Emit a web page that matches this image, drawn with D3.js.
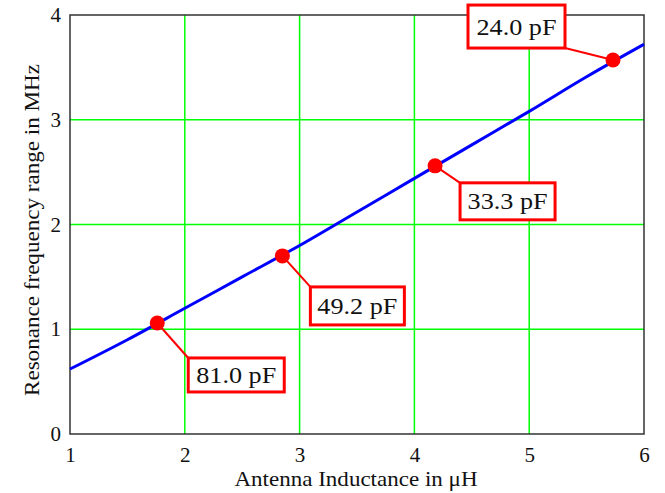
<!DOCTYPE html>
<html>
<head>
<meta charset="utf-8">
<script src="https://cdn.jsdelivr.net/npm/d3@7"></script>
<style>
  body { margin: 0; background: #fff; }
  svg { display: block; }
  text { font-family: "Liberation Serif", "Times New Roman", serif; fill: #111; }
</style>
</head>
<body>
<div id="chart"></div>
<script>
// curve: antenna inductance (uH) vs resonance frequency (MHz)
var inductance = [1, 1.5, 2, 2.5, 3, 3.5, 4, 4.5, 5, 5.5, 6];
var frequency = [0.62, 0.90, 1.20, 1.50, 1.80, 2.12, 2.44, 2.76, 3.08, 3.41, 3.72];

// marked points with capacitor values
var markL = [1.76, 2.85, 4.18, 5.73];
var markF = [1.06, 1.70, 2.56, 3.57];
var capLabels = ["81.0 pF", "49.2 pF", "33.3 pF", "24.0 pF"];

var xTicks = [1, 2, 3, 4, 5, 6];
var yTicks = [0, 1, 2, 3, 4];

var margin = {top: 15, right: 21, bottom: 59, left: 70},
    width = 665 - margin.left - margin.right,
    height = 493 - margin.top - margin.bottom;

var svg = d3.select("#chart").append("svg")
    .attr("width", 665)
    .attr("height", 493);

var g = svg.append("g")
    .attr("transform", "translate(" + margin.left + "," + margin.top + ")");

var x = d3.scaleLinear().domain([1, 6]).range([0, width]);
var y = d3.scaleLinear().domain([0, 4]).range([height, 0]);

// green grid
g.append("g").selectAll("line")
    .data(xTicks.slice(1, -1))
    .enter().append("line")
    .attr("x1", function(d) { return x(d); })
    .attr("x2", function(d) { return x(d); })
    .attr("y1", 0).attr("y2", height)
    .attr("stroke", "#00ff00").attr("stroke-width", 1.5);
g.append("g").selectAll("line")
    .data(yTicks.slice(1, -1))
    .enter().append("line")
    .attr("y1", function(d) { return y(d); })
    .attr("y2", function(d) { return y(d); })
    .attr("x1", 0).attr("x2", width)
    .attr("stroke", "#00ff00").attr("stroke-width", 1.5);

// frame
g.append("rect")
    .attr("width", width).attr("height", height)
    .attr("fill", "none").attr("stroke", "#333").attr("stroke-width", 1.5);

// axes (labels only)
var xAxis = d3.axisBottom(x).tickValues(xTicks).tickSize(0).tickPadding(13).tickFormat(d3.format("d"));
var yAxis = d3.axisLeft(y).tickValues(yTicks).tickSize(0).tickPadding(9).tickFormat(d3.format("d"));

g.append("g")
    .attr("transform", "translate(0," + height + ")")
    .call(xAxis)
    .call(function(s) { s.select(".domain").remove(); })
    .selectAll("text")
    .style("font-family", "Liberation Serif, serif")
    .style("font-size", "21px")
    .attr("fill", "#111");

g.append("g")
    .call(yAxis)
    .call(function(s) { s.select(".domain").remove(); })
    .selectAll("text")
    .style("font-family", "Liberation Serif, serif")
    .style("font-size", "21px")
    .attr("fill", "#111");

// axis titles
svg.append("text")
    .attr("x", 356)
    .attr("y", 486)
    .attr("text-anchor", "middle")
    .attr("textLength", 243)
    .attr("lengthAdjust", "spacingAndGlyphs")
    .style("font-size", "21px")
    .text("Antenna Inductance in \u03bcH");

svg.append("text")
    .attr("transform", "translate(39,230) rotate(-90)")
    .attr("text-anchor", "middle")
    .attr("textLength", 332)
    .attr("lengthAdjust", "spacingAndGlyphs")
    .style("font-size", "21px")
    .text("Resonance frequency range in MHz");

// curve
var pts = inductance.map(function(d, i) { return [d, frequency[i]]; });
var line = d3.line()
    .x(function(d) { return x(d[0]); })
    .y(function(d) { return y(d[1]); })
    .curve(d3.curveMonotoneX);

g.append("path")
    .datum(pts)
    .attr("d", line)
    .attr("fill", "none")
    .attr("stroke", "#0000ff")
    .attr("stroke-width", 3);

// callouts: box offset from point, leader goes to the box corner
var callout = [
    {dx: 31, dy: 35, w: 96, h: 34, corner: "tl"},
    {dx: 28, dy: 31, w: 94, h: 38, corner: "tl"},
    {dx: 25, dy: 17, w: 95, h: 37, corner: "tl"},
    {dx: -145, dy: -55, w: 97, h: 43, corner: "br"}
];

var marks = markL.map(function(d, i) {
    return {l: d, f: markF[i], label: capLabels[i], c: callout[i]};
});

var cg = g.append("g").selectAll("g")
    .data(marks)
    .enter().append("g");

cg.append("line")
    .attr("x1", function(d) { return x(d.l); })
    .attr("y1", function(d) { return y(d.f); })
    .attr("x2", function(d) { return x(d.l) + d.c.dx + (d.c.corner == "br" ? d.c.w : 0); })
    .attr("y2", function(d) { return y(d.f) + d.c.dy + (d.c.corner == "br" ? d.c.h : 0); })
    .attr("stroke", "#ff0000")
    .attr("stroke-width", 2);

cg.append("rect")
    .attr("x", function(d) { return x(d.l) + d.c.dx; })
    .attr("y", function(d) { return y(d.f) + d.c.dy; })
    .attr("width", function(d) { return d.c.w; })
    .attr("height", function(d) { return d.c.h; })
    .attr("fill", "#fff")
    .attr("stroke", "#ff0000")
    .attr("stroke-width", 3);

cg.append("text")
    .attr("x", function(d) { return x(d.l) + d.c.dx + d.c.w / 2; })
    .attr("y", function(d) { return y(d.f) + d.c.dy + d.c.h / 2 + 8; })
    .attr("text-anchor", "middle")
    .attr("textLength", 80)
    .attr("lengthAdjust", "spacingAndGlyphs")
    .style("font-size", "24px")
    .text(function(d) { return d.label; });

cg.append("circle")
    .attr("cx", function(d) { return x(d.l); })
    .attr("cy", function(d) { return y(d.f); })
    .attr("r", 7.5)
    .attr("fill", "#ff0000");
</script>
</body>
</html>
